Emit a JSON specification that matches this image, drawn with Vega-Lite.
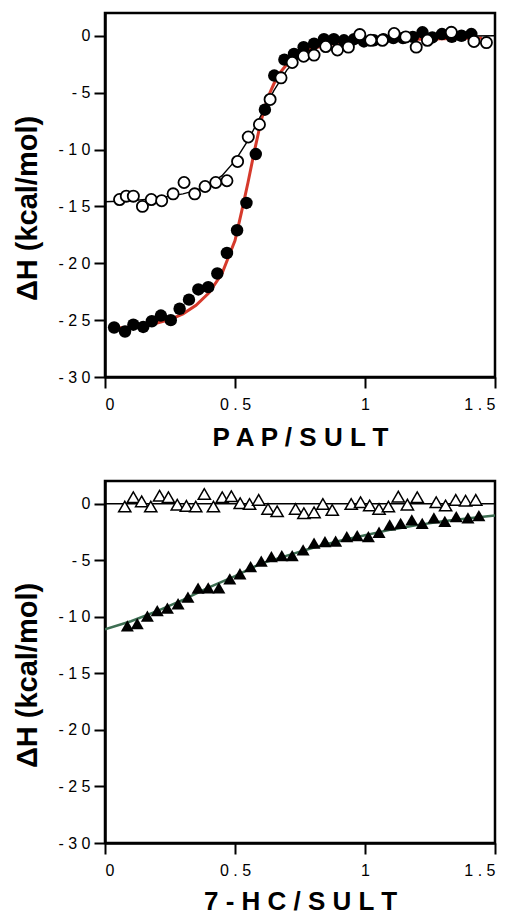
{
  "$schema": "https://vega.github.io/schema/vega-lite/v6.json",
  "padding": {"left": 11, "top": 11, "right": 5, "bottom": 2},
  "spacing": 27,
  "config": {
    "view": {"stroke": "black", "strokeWidth": 2.5},
    "axis": {
      "grid": false,
      "domainColor": "black",
      "domainWidth": 2.5,
      "tickColor": "black",
      "tickWidth": 2,
      "tickSize": 11,
      "labelFont": "Liberation Sans",
      "labelFontSize": 16,
      "labelColor": "black",
      "titleFont": "Liberation Sans",
      "titleFontWeight": "bold",
      "titleColor": "black"
    }
  },
  "datasets": {
    "papFilled": [
      {"x": 0.035, "y": -25.65}, {"x": 0.077, "y": -26.0}, {"x": 0.109, "y": -25.4}, {"x": 0.147, "y": -25.6},
      {"x": 0.18, "y": -25.1}, {"x": 0.215, "y": -24.6}, {"x": 0.253, "y": -25.0}, {"x": 0.287, "y": -24.0},
      {"x": 0.323, "y": -23.2}, {"x": 0.359, "y": -22.3}, {"x": 0.397, "y": -22.1}, {"x": 0.432, "y": -20.9},
      {"x": 0.469, "y": -19.1}, {"x": 0.508, "y": -17.1}, {"x": 0.544, "y": -14.7}, {"x": 0.58, "y": -10.4},
      {"x": 0.615, "y": -6.5}, {"x": 0.651, "y": -3.5}, {"x": 0.69, "y": -2.1}, {"x": 0.727, "y": -1.6},
      {"x": 0.764, "y": -1.0}, {"x": 0.804, "y": -0.7}, {"x": 0.842, "y": -0.3}, {"x": 0.88, "y": -0.3},
      {"x": 0.919, "y": -0.4}, {"x": 0.958, "y": -0.3}, {"x": 0.996, "y": -0.5}, {"x": 1.034, "y": -0.4},
      {"x": 1.071, "y": -0.3}, {"x": 1.109, "y": -0.2}, {"x": 1.146, "y": -0.2}, {"x": 1.184, "y": -0.1},
      {"x": 1.221, "y": 0.3}, {"x": 1.259, "y": -0.15}, {"x": 1.296, "y": 0.15}, {"x": 1.334, "y": -0.1},
      {"x": 1.371, "y": 0.0}, {"x": 1.409, "y": 0.15}
    ],
    "papOpen": [
      {"x": 0.056, "y": -14.4}, {"x": 0.082, "y": -14.1}, {"x": 0.109, "y": -14.1}, {"x": 0.144, "y": -15.0},
      {"x": 0.178, "y": -14.4}, {"x": 0.218, "y": -14.5}, {"x": 0.262, "y": -13.9}, {"x": 0.304, "y": -12.9},
      {"x": 0.345, "y": -13.9}, {"x": 0.385, "y": -13.25}, {"x": 0.426, "y": -12.9}, {"x": 0.469, "y": -12.75},
      {"x": 0.51, "y": -11.05}, {"x": 0.551, "y": -8.9}, {"x": 0.594, "y": -7.8}, {"x": 0.635, "y": -5.6},
      {"x": 0.677, "y": -3.7}, {"x": 0.72, "y": -2.35}, {"x": 0.764, "y": -1.8}, {"x": 0.804, "y": -1.7},
      {"x": 0.849, "y": -0.95}, {"x": 0.894, "y": -1.25}, {"x": 0.936, "y": -1.0}, {"x": 0.98, "y": 0.1},
      {"x": 1.022, "y": -0.4}, {"x": 1.067, "y": -0.4}, {"x": 1.112, "y": 0.2}, {"x": 1.157, "y": -0.1},
      {"x": 1.197, "y": -1.0}, {"x": 1.24, "y": -0.4}, {"x": 1.332, "y": 0.3}, {"x": 1.419, "y": -0.5},
      {"x": 1.467, "y": -0.6}
    ],
    "papRedFit": [
      {"x": 0.05, "y": -25.7}, {"x": 0.1, "y": -25.6}, {"x": 0.15, "y": -25.45}, {"x": 0.2, "y": -25.25},
      {"x": 0.25, "y": -24.95}, {"x": 0.3, "y": -24.45}, {"x": 0.35, "y": -23.7}, {"x": 0.4, "y": -22.6},
      {"x": 0.45, "y": -20.9}, {"x": 0.5, "y": -18.0}, {"x": 0.525, "y": -15.5}, {"x": 0.55, "y": -12.9},
      {"x": 0.575, "y": -10.1}, {"x": 0.6, "y": -7.5}, {"x": 0.625, "y": -5.5}, {"x": 0.65, "y": -4.2},
      {"x": 0.675, "y": -3.2}, {"x": 0.7, "y": -2.5}, {"x": 0.75, "y": -1.6}, {"x": 0.8, "y": -1.1},
      {"x": 0.9, "y": -0.6}, {"x": 1.0, "y": -0.4}, {"x": 1.2, "y": -0.3}, {"x": 1.45, "y": -0.2}
    ],
    "papOpenFit": [
      {"x": 0, "y": -14.6}, {"x": 0.1, "y": -14.5}, {"x": 0.2, "y": -14.3}, {"x": 0.3, "y": -13.9},
      {"x": 0.35, "y": -13.6}, {"x": 0.4, "y": -13.1}, {"x": 0.45, "y": -12.3}, {"x": 0.5, "y": -11.0},
      {"x": 0.55, "y": -9.2}, {"x": 0.6, "y": -7.0}, {"x": 0.65, "y": -4.8}, {"x": 0.7, "y": -3.0},
      {"x": 0.75, "y": -1.8}, {"x": 0.8, "y": -1.1}, {"x": 0.85, "y": -0.7}, {"x": 0.9, "y": -0.45},
      {"x": 1.0, "y": -0.25}, {"x": 1.1, "y": -0.15}, {"x": 1.2, "y": -0.1}, {"x": 1.3, "y": -0.05},
      {"x": 1.5, "y": 0}
    ],
    "hcOpen": [
      {"x": 0.076, "y": -0.26}, {"x": 0.109, "y": 0.56}, {"x": 0.141, "y": 0.2}, {"x": 0.176, "y": -0.26},
      {"x": 0.21, "y": 0.7}, {"x": 0.244, "y": 0.56}, {"x": 0.278, "y": -0.1}, {"x": 0.313, "y": -0.2},
      {"x": 0.349, "y": -0.26}, {"x": 0.382, "y": 0.85}, {"x": 0.417, "y": -0.26}, {"x": 0.451, "y": 0.56},
      {"x": 0.486, "y": 0.65}, {"x": 0.52, "y": 0.03}, {"x": 0.556, "y": -0.03}, {"x": 0.591, "y": 0.33},
      {"x": 0.627, "y": -0.47}, {"x": 0.662, "y": -0.68}, {"x": 0.733, "y": -0.47}, {"x": 0.765, "y": -0.85},
      {"x": 0.804, "y": -0.77}, {"x": 0.838, "y": -0.03}, {"x": 0.874, "y": -0.56}, {"x": 0.947, "y": -0.03},
      {"x": 0.983, "y": 0.12}, {"x": 1.018, "y": -0.17}, {"x": 1.054, "y": -0.47}, {"x": 1.09, "y": -0.26},
      {"x": 1.128, "y": 0.62}, {"x": 1.163, "y": -0.09}, {"x": 1.201, "y": 0.56}, {"x": 1.274, "y": 0.12},
      {"x": 1.31, "y": -0.17}, {"x": 1.349, "y": 0.33}, {"x": 1.387, "y": 0.26}, {"x": 1.426, "y": 0.33}
    ],
    "hcFilled": [
      {"x": 0.086, "y": -10.8}, {"x": 0.124, "y": -10.6}, {"x": 0.163, "y": -9.95}, {"x": 0.201, "y": -9.45},
      {"x": 0.24, "y": -9.24}, {"x": 0.281, "y": -8.85}, {"x": 0.319, "y": -8.27}, {"x": 0.358, "y": -7.47},
      {"x": 0.397, "y": -7.44}, {"x": 0.438, "y": -7.44}, {"x": 0.48, "y": -6.65}, {"x": 0.519, "y": -6.2},
      {"x": 0.56, "y": -5.56}, {"x": 0.601, "y": -5.09}, {"x": 0.64, "y": -4.68}, {"x": 0.68, "y": -4.59},
      {"x": 0.72, "y": -4.59}, {"x": 0.762, "y": -4.09}, {"x": 0.804, "y": -3.5}, {"x": 0.846, "y": -3.35},
      {"x": 0.887, "y": -3.32}, {"x": 0.93, "y": -2.91}, {"x": 0.97, "y": -2.82}, {"x": 1.013, "y": -2.91},
      {"x": 1.054, "y": -2.53}, {"x": 1.095, "y": -1.88}, {"x": 1.137, "y": -1.74}, {"x": 1.18, "y": -1.44},
      {"x": 1.22, "y": -1.74}, {"x": 1.265, "y": -1.26}, {"x": 1.307, "y": -1.56}, {"x": 1.351, "y": -1.15},
      {"x": 1.396, "y": -1.26}, {"x": 1.438, "y": -1.06}
    ],
    "hcFit": [
      {"x": 0, "y": -11.1}, {"x": 0.1, "y": -10.4}, {"x": 0.2, "y": -9.5}, {"x": 0.3, "y": -8.5},
      {"x": 0.4, "y": -7.4}, {"x": 0.5, "y": -6.4}, {"x": 0.6, "y": -5.3}, {"x": 0.7, "y": -4.6},
      {"x": 0.8, "y": -3.9}, {"x": 0.9, "y": -3.3}, {"x": 1.0, "y": -2.8}, {"x": 1.1, "y": -2.3},
      {"x": 1.2, "y": -1.9}, {"x": 1.3, "y": -1.55}, {"x": 1.4, "y": -1.3}, {"x": 1.5, "y": -1.05}
    ],
    "hcZero": [{"x": 0, "y": 0}, {"x": 1.5, "y": 0}]
  },
  "vconcat": [
    {
      "width": 390,
      "height": 364,
      "encoding": {
        "x": {"field": "x", "type": "quantitative",
              "scale": {"domain": [0, 1.5], "nice": false, "zero": false},
              "axis": {"title": "P A P / S U L T", "titleFontSize": 26, "values": [0, 0.5, 1, 1.5],
                       "labelPadding": 8, "titlePadding": 12,
                       "labelExpr": "join(split(toString(datum.value), ''), ' ')"}},
        "y": {"field": "y", "type": "quantitative",
              "scale": {"domain": [-30, 2], "nice": false, "zero": false},
              "axis": {"title": "ΔH (kcal/mol)", "titleFontSize": 29, "values": [0, -5, -10, -15, -20, -25, -30],
                       "labelPadding": 4, "titleAngle": 270, "titleAlign": "center", "titleBaseline": "alphabetic",
                       "titleX": -69, "titleY": 195,
                       "labelExpr": "join(split(toString(datum.value), ''), ' ')"}}
      },
      "layer": [
        {"data": {"name": "papRedFit"}, "mark": {"type": "line", "color": "#d63a2c", "strokeWidth": 3, "clip": true}},
        {"data": {"name": "papOpenFit"}, "mark": {"type": "line", "color": "black", "strokeWidth": 1.4, "clip": true}},
        {"data": {"name": "papFilled"}, "mark": {"type": "point", "shape": "circle", "filled": true, "color": "black", "size": 155, "opacity": 1}},
        {"data": {"name": "papOpen"}, "mark": {"type": "point", "shape": "circle", "fill": "white", "stroke": "black", "strokeWidth": 1.8, "size": 125, "opacity": 1, "fillOpacity": 1}}
      ]
    },
    {
      "width": 390,
      "height": 362,
      "encoding": {
        "x": {"field": "x", "type": "quantitative",
              "scale": {"domain": [0, 1.5], "nice": false, "zero": false},
              "axis": {"title": "7 - H C / S U L T", "titleFontSize": 26, "values": [0, 0.5, 1, 1.5],
                       "labelPadding": 8, "titlePadding": 10,
                       "labelExpr": "join(split(toString(datum.value), ''), ' ')"}},
        "y": {"field": "y", "type": "quantitative",
              "scale": {"domain": [-30, 2], "nice": false, "zero": false},
              "axis": {"title": "ΔH (kcal/mol)", "titleFontSize": 29, "values": [0, -5, -10, -15, -20, -25, -30],
                       "labelPadding": 4, "titleAngle": 270, "titleAlign": "center", "titleBaseline": "alphabetic",
                       "titleX": -69, "titleY": 194,
                       "labelExpr": "join(split(toString(datum.value), ''), ' ')"}}
      },
      "layer": [
        {"data": {"name": "hcZero"}, "mark": {"type": "line", "color": "black", "strokeWidth": 1.5}},
        {"data": {"name": "hcFit"}, "mark": {"type": "line", "color": "#3d6e52", "strokeWidth": 2.5, "clip": true}},
        {"data": {"name": "hcFilled"}, "mark": {"type": "point", "shape": "triangle-up", "filled": true, "color": "black", "size": 170, "opacity": 1}},
        {"data": {"name": "hcOpen"}, "mark": {"type": "point", "shape": "triangle-up", "fill": "white", "stroke": "black", "strokeWidth": 1.5, "size": 150, "opacity": 1, "fillOpacity": 1}}
      ]
    }
  ]
}
